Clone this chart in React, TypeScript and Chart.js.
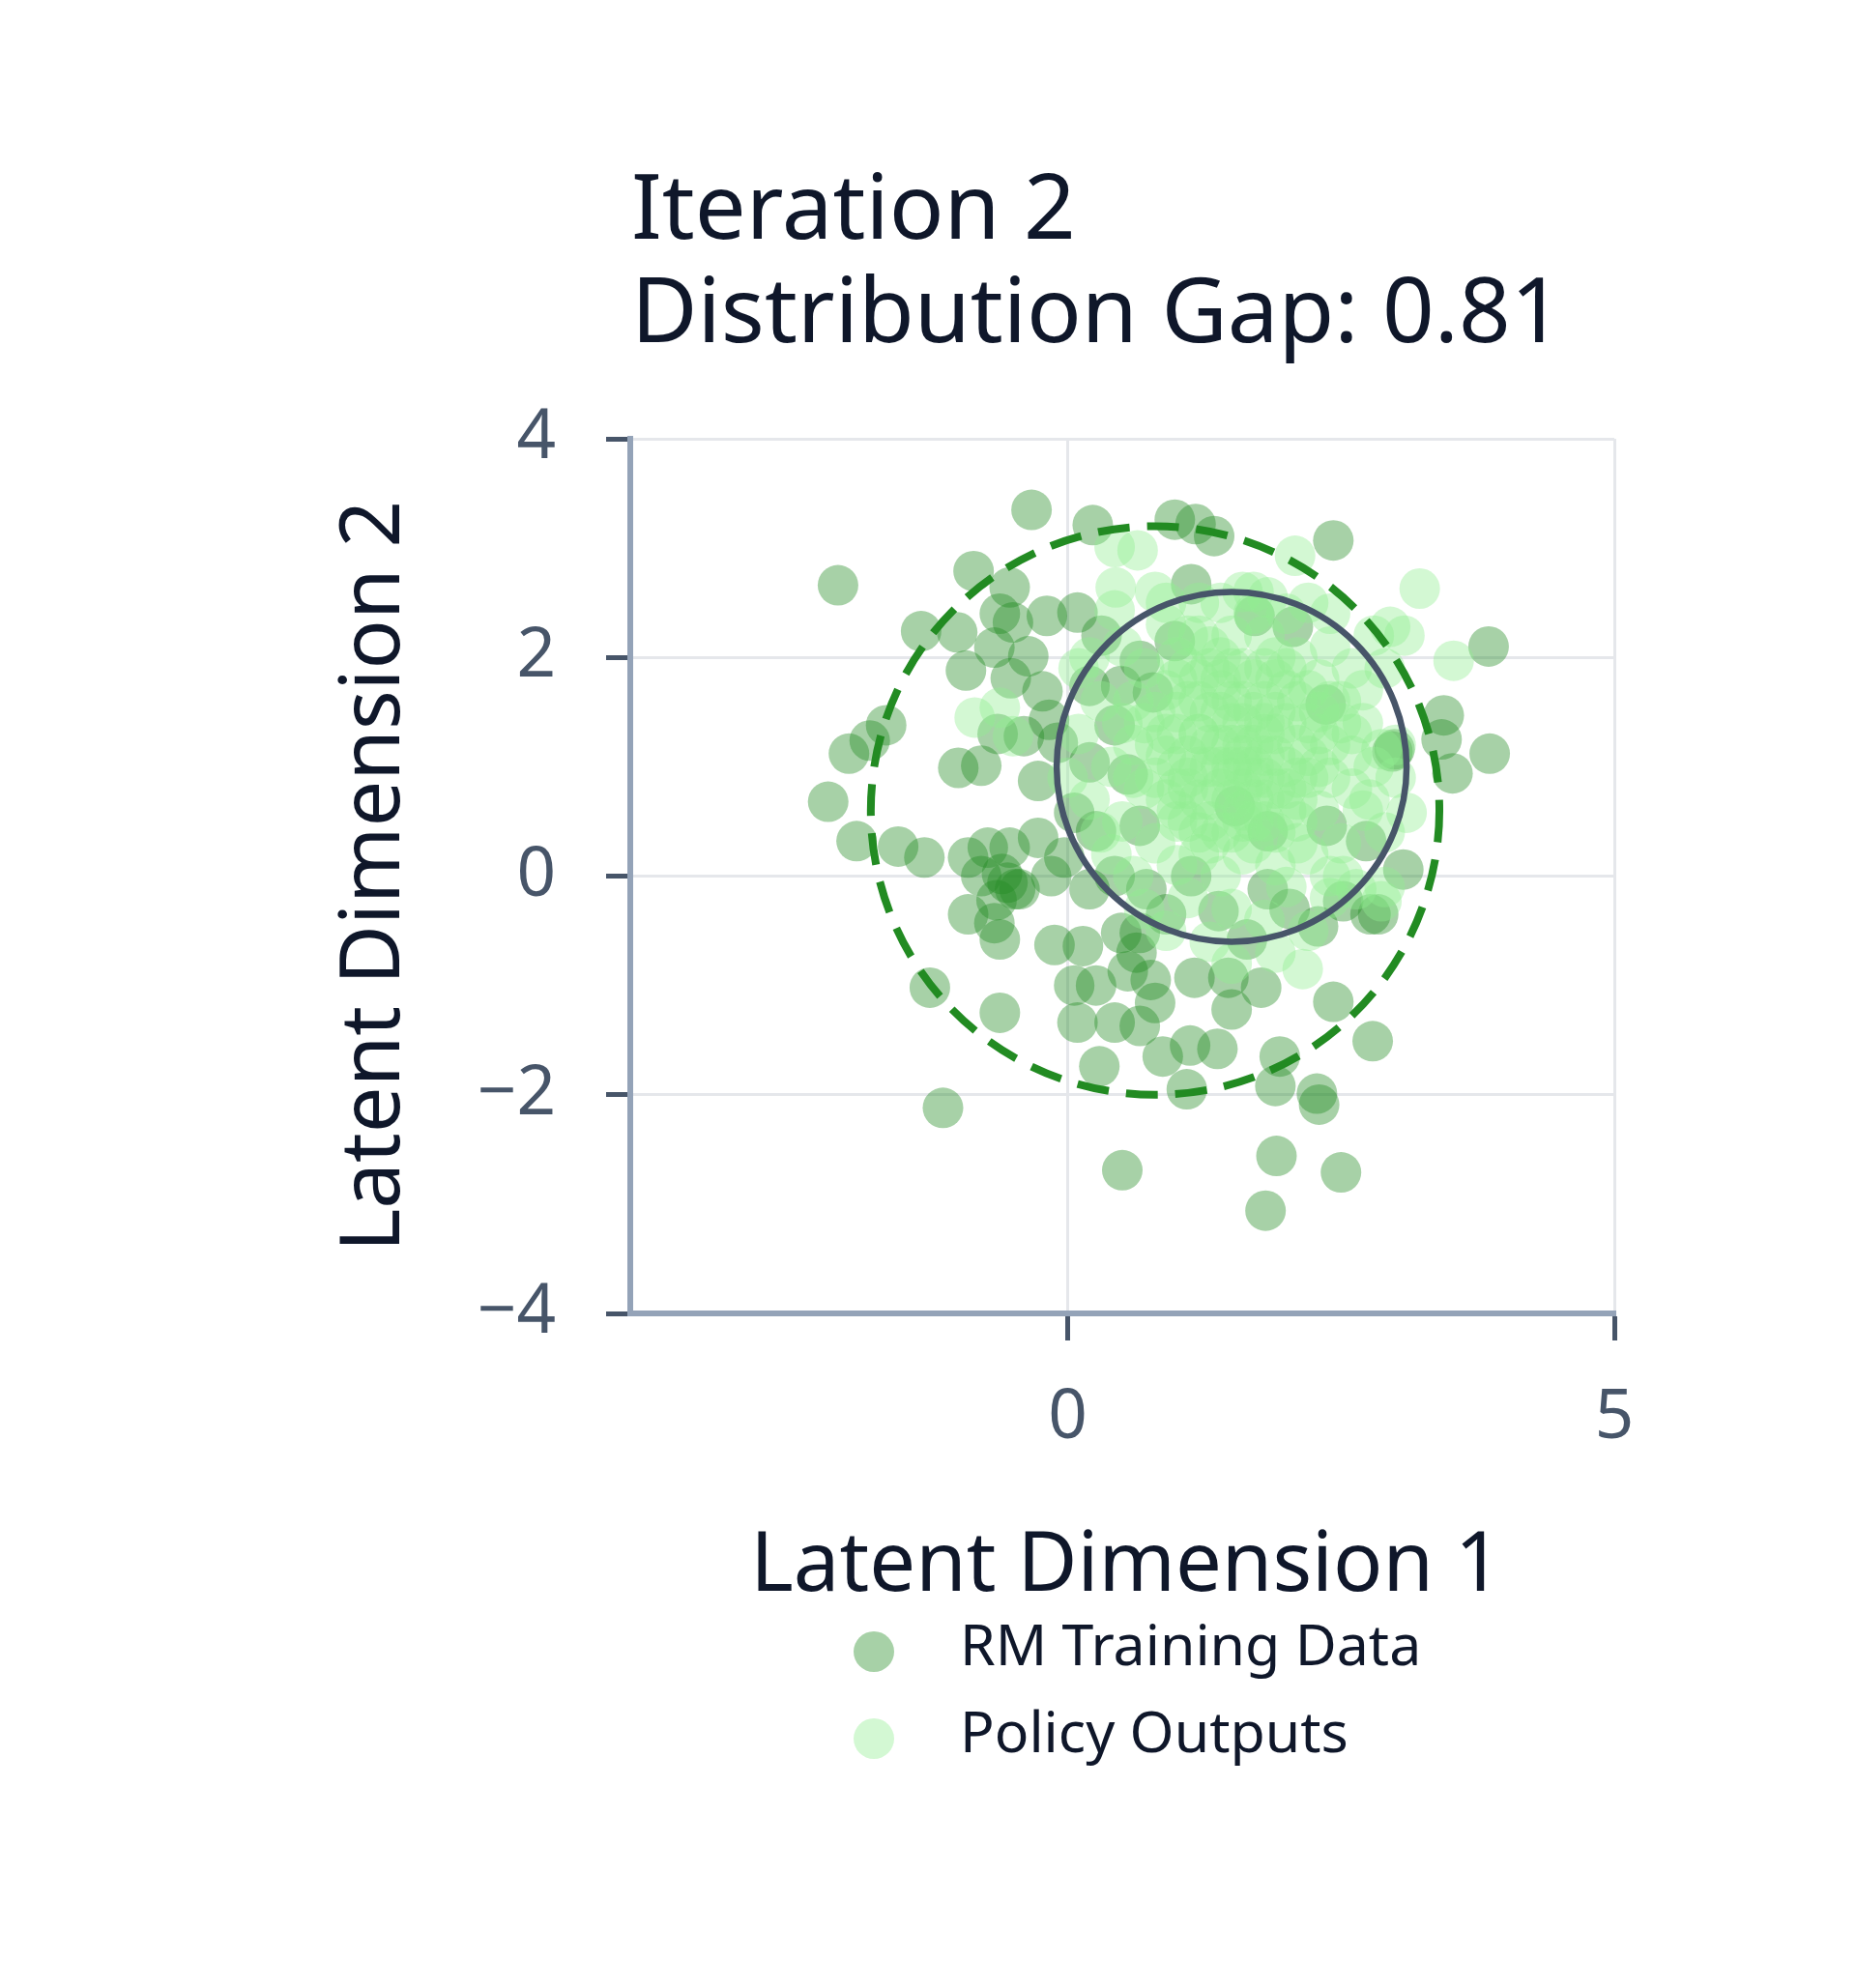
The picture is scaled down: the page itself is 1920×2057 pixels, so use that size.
import { useEffect, useRef } from "react";
import { Chart, registerables } from "chart.js";

Chart.register(...registerables);

// ---------- data ----------
const titleLines = ["Iteration 2", "Distribution Gap: 0.81"];
const xAxisTitle = "Latent Dimension 1";
const yAxisTitle = "Latent Dimension 2";
const seriesNames = ["RM Training Data", "Policy Outputs"];

const xTickValues = [0, 5];
const xTickLabels = ["0", "5"];
const yTickValues = [-4, -2, 0, 2, 4];
const yTickLabels = ["\u22124", "\u22122", "0", "2", "4"];

// RM training data points [x, y]
const rmTrainingData: [number, number][] = [
  [-0.33, 3.35], [-2.1, 2.66], [0.23, 3.21], [0.98, 3.26], [1.17, 3.22], [1.34, 3.11], [2.43, 3.07],
  [-0.86, 2.79], [-0.53, 2.64], [-1.34, 2.24], [-1.01, 2.23], [-0.62, 2.4], [-0.5, 2.32], [-0.19, 2.38],
  [0.09, 2.41], [-0.93, 1.88], [-0.67, 2.09], [-0.36, 2.01], [-0.23, 1.69], [-0.52, 1.81], [3.85, 2.1],
  [3.44, 1.47], [3.42, 1.25], [2.99, 1.16], [3.86, 1.12], [3.52, 0.94], [-1.66, 1.38], [-1.81, 1.24],
  [-2.0, 1.12], [-2.19, 0.68], [-1.93, 0.32], [-1.55, 0.27], [-1.31, 0.17], [-1.0, 0.99], [-0.79, 1.01],
  [-0.64, 1.3], [-0.91, 0.17], [-0.73, 0.26], [-0.53, 0.26], [-0.55, -0.06], [-0.79, 0.0], [-0.91, -0.35],
  [-0.67, -0.43], [-0.62, -0.58], [-0.44, -0.12], [-0.27, 0.35], [-0.12, -0.63], [0.14, -0.64],
  [-1.26, -1.02], [-0.62, -1.25], [-1.14, -2.12], [0.06, -1.0], [0.26, -1.0], [0.09, -1.34], [0.43, -1.34],
  [0.66, -1.37], [0.29, -1.74], [0.87, -1.65], [1.12, -1.55], [1.37, -1.58], [1.09, -1.95], [0.5, -2.69],
  [1.91, -2.56], [2.5, -2.71], [1.81, -3.06], [1.9, -1.92], [2.28, -1.99], [2.3, -2.09], [1.94, -1.65],
  [2.43, -1.15], [2.79, -1.51], [1.77, -1.02], [1.47, -0.93], [1.16, -0.93], [0.76, -0.95], [0.63, -0.7],
  [0.49, -0.52], [0.66, -0.52], [0.9, -0.35], [1.13, 0.0], [1.38, -0.32], [1.64, -0.58], [2.03, -0.3],
  [2.77, -0.35], [3.07, 0.06], [2.73, 0.32], [2.84, -0.35], [2.52, -0.23], [2.97, 1.14], [2.36, 1.57],
  [2.06, 2.28], [1.71, 2.38], [1.13, 2.67], [0.98, 2.15], [0.66, 1.97], [0.49, 1.74], [0.78, 1.68],
  [0.43, 1.38], [0.2, 1.04], [-0.09, 1.22], [-0.27, 0.87], [0.06, 0.58], [0.26, 0.41], [-0.03, 0.17],
  [0.2, -0.12], [-0.15, 0.0], [0.55, 0.93], [1.53, 0.64], [1.83, 0.41],
  [2.37, 0.46], [0.66, 0.46], [0.43, 0.0],
  [0.72, -0.12], [1.83, -0.12], [2.29, -0.46], [0.55, -0.87], [0.8, -1.16], [1.5, -1.22], [0.31, 2.2],
  [-0.17, 1.43], [-0.4, 1.28], [0.2, 1.74], [-0.6, 0.02], [-0.48, -0.12], [-0.65, -0.22],
];

// Policy output points [x, y]
const policyOutputs: [number, number][] = [
  [0.43, 3.01], [0.64, 2.98], [2.08, 2.93], [3.22, 2.63], [2.95, 2.28], [3.53, 1.97], [3.08, 2.2],
  [2.15, -0.85], [0.44, 2.64], [0.43, 2.43], [-0.85, 1.45], [-0.62, 1.54], [-0.5, 1.28], [1.83, 2.55],
  [2.87, 1.16], [2.76, 0.7], [2.64, -0.12], [2.87, -0.23], [2.52, 0.0], [3.1, 0.58],
  [1.5, 1.0], [1.2, 1.3], [1.8, 0.7], [1.0, 0.6], [2.0, 1.4], [1.4, 1.7], [1.7, 0.3], [0.9, 1.1],
  [2.2, 0.9], [1.3, 0.5], [1.6, 1.9], [1.1, 1.6], [2.4, 1.2], [0.7, 0.8], [1.9, 0.1], [1.5, 2.2],
  [0.8, 1.5], [2.1, 0.5], [1.2, 0.2], [2.6, 0.8], [1.0, 2.0], [1.8, 1.6], [0.6, 1.2], [1.4, 0.0],
  [2.3, 1.8], [0.5, 0.5], [1.7, 2.4], [2.7, 1.4], [1.1, -0.2], [0.9, 2.3], [2.0, -0.1], [1.3, 1.0],
  [1.6, 0.6], [1.9, 1.1], [1.1, 0.9], [1.5, 1.4], [2.1, 1.2], [0.8, 0.3], [1.7, 1.2], [1.3, 1.9],
  [2.5, 0.3], [0.4, 1.0], [1.9, 2.0], [1.0, 1.3], [2.2, 0.2], [1.4, 0.8], [1.6, 1.0], [1.2, 0.7],
  [1.8, 0.9], [2.0, 0.8], [0.7, 1.9], [2.8, 1.0], [1.5, -0.3], [0.3, 1.6], [2.4, 2.1], [1.2, 2.5],
  [2.9, 0.4], [0.6, 0.0], [1.8, -0.4], [2.3, 1.5], [1.0, 0.1], [1.6, 2.6], [0.2, 0.7], [2.6, 1.9],
  [0.9, -0.5], [2.2, -0.5], [1.4, 2.5], [0.5, 2.1], [3.0, 1.2], [0.1, 1.3], [1.7, 0.5], [1.3, 1.5],
  [2.0, 1.7], [1.1, 1.1], [1.9, 0.4], [1.5, 0.7], [1.4, 1.2], [1.7, 1.5], [1.2, 1.8], [2.1, 0.9],
  [0.8, 0.9], [2.5, 1.6], [1.0, 1.8], [1.8, 2.2], [0.6, 1.6], [2.7, 0.6], [0.4, 0.2], [2.2, 2.5],
  [1.3, -0.6], [2.4, -0.2], [0.2, 2.0], [2.9, 1.9], [1.6, 0.2], [1.1, 2.2], [2.0, 2.4], [0.7, -0.3],
  [2.9, -0.1], [0.0, 0.9], [1.5, 1.6], [1.8, 1.3], [1.2, 0.4], [2.3, 0.6], [0.9, 1.7], [1.6, 1.2],
  [2.1, 2.0], [1.4, 0.4], [1.0, 0.5], [2.6, 1.1], [0.5, 1.4], [1.9, -0.7], [1.7, 2.6], [0.3, 0.4],
  [2.8, 2.2], [0.9, 2.5], [3.0, 0.9], [0.1, 1.9], [2.4, 0.0], [0.8, 2.6], [1.5, -0.8], [2.4, 2.4],
  [1.3, 1.2], [1.6, 1.4], [1.9, 0.8], [1.1, 0.8], [1.5, 0.4], [1.7, 1.8], [2.2, 1.1], [1.0, 1.5],
  [1.4, 1.0], [1.8, 1.1], [2.0, 0.6], [1.2, 1.6], [1.6, 0.8], [2.3, 1.3], [0.9, 1.3], [1.5, 1.9],
  [1.9, 1.5], [1.3, 0.7], [2.1, 1.6], [1.1, 1.9], [1.7, 0.9], [2.4, 0.9], [0.8, 1.2], [1.4, 1.5],
  [2.0, 1.0], [1.6, 1.6], [1.2, 1.0], [1.8, 0.5], [2.2, 1.7], [1.0, 1.0], [1.5, 1.2], [1.9, 1.8],
  [1.3, 0.3], [2.5, 1.4], [0.7, 1.4], [1.7, 0.7], [2.1, 0.7], [1.4, 2.0], [1.1, 0.5], [2.3, 1.0],
  [1.6, 1.1], [1.8, 1.4], [1.2, 1.3], [2.0, 1.9], [1.5, 0.9], [1.9, 1.3], [1.0, 0.8], [2.6, 1.3],
  [1.4, 1.8], [1.7, 1.0], [2.2, 1.4], [1.3, 2.1], [1.8, 1.9], [0.9, 0.7], [2.4, 1.6], [1.6, 0.5],
  [2.1, 0.3], [1.2, 2.2], [2.7, 1.7], [0.6, 0.9],
];

// Circles: [centerX, centerY, radius]
const rmCircle = [0.8, 0.6, 2.6];
const policyCircle = [1.5, 1.0, 1.6];

// ---------- styles ----------
const FONT = "'Noto Sans', 'Open Sans', sans-serif";
const RM_COLOR = "rgba(34, 139, 34, 0.4)";
const POLICY_COLOR = "rgba(144, 238, 144, 0.4)";
const TEXT_DARK = "#0f172a";
const TICK_COLOR = "#475569";

const overlayPlugin = {
  id: "overlay",
  afterDatasetsDraw(chart: any) {
    const { ctx, scales } = chart;
    const xs = scales.x;
    const ys = scales.y;
    const circles = [
      { c: rmCircle, color: "#228B22", width: 8, dash: [33, 18] },
      { c: policyCircle, color: "#475569", width: 6.5, dash: [] as number[] },
    ];
    ctx.save();
    for (const item of circles) {
      const [cx, cy, r] = item.c;
      const px = xs.getPixelForValue(cx);
      const py = ys.getPixelForValue(cy);
      const rx = Math.abs(xs.getPixelForValue(cx + r) - px);
      const ry = Math.abs(ys.getPixelForValue(cy + r) - py);
      ctx.beginPath();
      ctx.ellipse(px, py, rx, ry, 0, 0, Math.PI * 2);
      ctx.setLineDash(item.dash);
      ctx.lineWidth = item.width;
      ctx.strokeStyle = item.color;
      ctx.stroke();
    }
    ctx.restore();
  },
  afterDraw(chart: any) {
    const { ctx, chartArea } = chart;
    ctx.save();
    // Title
    ctx.fillStyle = TEXT_DARK;
    ctx.textAlign = "left";
    ctx.textBaseline = "alphabetic";
    ctx.font = `94px ${FONT}`;
    ctx.fillText(titleLines[0], chartArea.left + 1, 247);
    ctx.fillText(titleLines[1], chartArea.left + 1, 354);

    // X axis title
    ctx.font = `85px ${FONT}`;
    ctx.textAlign = "center";
    ctx.fillText(xAxisTitle, (chartArea.left + chartArea.right) / 2 + 4, 1646);

    // Y axis title
    ctx.save();
    ctx.translate(413, (chartArea.top + chartArea.bottom) / 2);
    ctx.rotate(-Math.PI / 2);
    ctx.textAlign = "center";
    ctx.textBaseline = "alphabetic";
    ctx.fillText(yAxisTitle, 0, 0);
    ctx.restore();

    // Legend
    const legendColors = [RM_COLOR, POLICY_COLOR];
    const legendY = [1709, 1799];
    ctx.font = `59px ${FONT}`;
    ctx.textAlign = "left";
    ctx.textBaseline = "middle";
    for (let i = 0; i < seriesNames.length; i++) {
      ctx.beginPath();
      ctx.arc(904, legendY[i], 21, 0, Math.PI * 2);
      ctx.fillStyle = legendColors[i];
      ctx.fill();
      ctx.fillStyle = TEXT_DARK;
      ctx.fillText(seriesNames[i], 993, legendY[i] - 3);
    }
    ctx.restore();
  },
};

export default function App() {
  const canvasRef = useRef<HTMLCanvasElement | null>(null);

  useEffect(() => {
    document.body.style.margin = "0";
    const canvas = canvasRef.current;
    if (!canvas) return;
    const chart = new Chart(canvas, {
      type: "scatter",
      data: {
        datasets: [
          {
            label: seriesNames[0],
            data: rmTrainingData.map(([x, y]) => ({ x, y })),
            backgroundColor: RM_COLOR,
            borderWidth: 0,
            pointRadius: 21,
            order: 2,
          },
          {
            label: seriesNames[1],
            data: policyOutputs.map(([x, y]) => ({ x, y })),
            backgroundColor: POLICY_COLOR,
            borderWidth: 0,
            pointRadius: 21,
            order: 1,
          },
        ],
      },
      options: {
        responsive: false,
        animation: false,
        devicePixelRatio: 1,
        layout: { padding: { top: 454, right: 250, bottom: 0, left: 0 } },
        plugins: {
          legend: { display: false },
          title: { display: false },
          tooltip: { enabled: false },
        },
        scales: {
          x: {
            type: "linear",
            min: -4,
            max: 5,
            afterFit: (s: any) => {
              s.height = 698;
            },
            afterBuildTicks: (s: any) => {
              s.ticks = xTickValues.map((v) => ({ value: v }));
            },
            ticks: {
              padding: 38,
              color: TICK_COLOR,
              font: { size: 71, family: FONT },
              callback: (v: any) => xTickLabels[xTickValues.indexOf(Number(v))] ?? "",
            },
            grid: {
              color: "#e5e7eb",
              lineWidth: 3,
              tickLength: 28,
              tickColor: TICK_COLOR,
              tickWidth: 5,
            },
            border: { color: "#94a3b8", width: 6 },
          },
          y: {
            type: "linear",
            min: -4,
            max: 4,
            afterFit: (s: any) => {
              s.width = 652;
            },
            afterBuildTicks: (s: any) => {
              s.ticks = yTickValues.map((v) => ({ value: v }));
            },
            ticks: {
              padding: 52,
              color: TICK_COLOR,
              font: { size: 71, family: FONT },
              callback: (v: any) => yTickLabels[yTickValues.indexOf(Number(v))] ?? "",
            },
            grid: {
              color: "#e5e7eb",
              lineWidth: 3,
              tickLength: 25,
              tickColor: TICK_COLOR,
              tickWidth: 5,
            },
            border: { color: "#94a3b8", width: 6 },
          },
        },
      },
      plugins: [overlayPlugin],
    });
    return () => chart.destroy();
  }, []);

  return (
    <canvas
      ref={canvasRef}
      width={1920}
      height={2057}
      style={{ display: "block", width: 1920, height: 2057 }}
    />
  );
}
